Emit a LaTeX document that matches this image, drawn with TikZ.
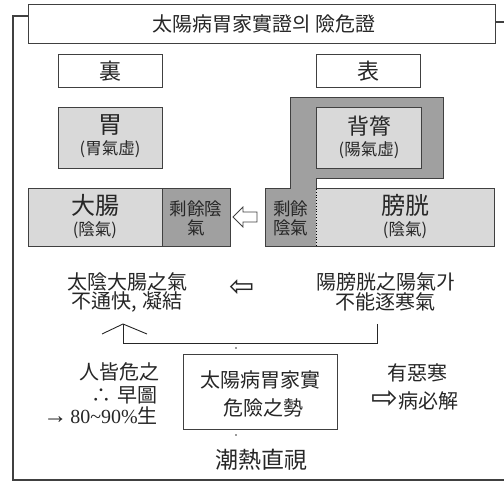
\documentclass[tikz,border=0pt]{standalone}
\usepackage{fontspec}
\setmainfont{Noto Sans CJK KR}
\newfontfamily\dvs{DejaVu Sans}
\newfontfamily\lat{Liberation Serif}
\newcommand\myfs[1]{\fontsize{#1pt}{#1pt}\selectfont}
\definecolor{lg}{HTML}{D9D9D9}
\definecolor{dg}{HTML}{A0A0A0}
\definecolor{ln}{HTML}{404040}
\begin{document}
\begin{tikzpicture}[x=1pt,y=-1pt,
  frame/.style={draw=ln, line width=1.2pt},
  bx/.style={draw=ln, line width=1pt, inner sep=0pt},
  conn/.style={draw=black!85, line width=0.9pt},
  txt/.style={inner sep=0pt, text=black!85},
  t20/.style={txt, font=\myfs{20}},
  big/.style={txt, font=\myfs{24}},
  small/.style={txt, font=\myfs{16.5}},
  mid/.style={txt, font=\myfs{17.5}},
]
\useasboundingbox (0,0) rectangle (504,481);
% title and frame
\node[bx, minimum width=467, minimum height=39] (title) at (261.5,24.5) {};
\node[t20] (tt) at (264,24) {太陽病胃家實證의 險危證};
\coordinate (fs1) at (28,16);
\coordinate (fc1) at (13,16);
\coordinate (fc2) at (13,480);
\coordinate (fc3) at (504,480);
\coordinate (rs1) at (495,22);
\coordinate (rs2) at (504,22);
\draw[frame] (fs1) -- (fc1) -- (fc2) -- (fc3);
\draw[frame] (rs1) -- (rs2);
% headers
\node[bx, minimum width=104, minimum height=33] (li) at (110,71.5) {};
\node[txt, font=\myfs{22}] at (li) {裏};
\node[bx, minimum width=104, minimum height=33] (biao) at (368,71.5) {};
\node[txt, font=\myfs{22}] at (biao) {表};
% stomach box
\node[bx, fill=lg, minimum width=104, minimum height=61] (wei) at (110,138.5) {};
\node[big] at (110,125) {胃};
\node[small] at (110,149.5) {(胃氣虛)};
% grey L-shape
\draw[ln, line width=1pt, fill=dg] (290,98) -- (443,98) -- (443,179) -- (316,179) -- (316,247) -- (265,247) -- (265,189) -- (290,189) -- cycle;
\node[bx, fill=lg, minimum width=105, minimum height=61] (bei) at (368.5,138.5) {};
\node[txt, font=\myfs{22}] at (369,126) {背膂};
\node[small] at (369,150.5) {(陽氣虛)};
\node[mid] at (290.5,208.5) {剩餘};
\node[mid] at (290.5,228) {陰氣};
% bladder box
\fill[lg] (316,189) rectangle (494,247);
\draw[ln, line width=1pt] (316,189) -- (494,189) -- (494,247) -- (316,247);
\draw[black, line width=0.8pt, dotted] (316,189) -- (316,247);
\node[big] (pg) at (405,205) {膀胱};
\node[small] at (405,230) {(陰氣)};
% large intestine
\node[bx, fill=lg, minimum width=134, minimum height=58] (dc) at (95,218) {};
\node[big] at (95,205) {大腸};
\node[small] at (95,230) {(陰氣)};
\node[bx, fill=dg, minimum width=68, minimum height=58] (sy) at (196,218) {};
\node[mid] at (196,208.5) {剩餘陰};
\node[mid] at (196,228) {氣};
% hollow arrow
\draw[ln, fill=white, line width=0.8pt] (233,217) -- (243,207) -- (243,212) -- (257,212) -- (257,222) -- (243,222) -- (243,227) -- cycle;
% text rows
\node[t20] (l1) at (127,282) {太陰大腸之氣};
\node[t20] (l2) at (127,302) {不通快, 凝結};
\node[txt, font=\dvs\myfs{30}] (la) at (242,288) {⇦};
\node[t20] (r1) at (386,282) {陽膀胱之陽氣가};
\node[t20] (r2) at (385,302) {不能逐寒氣};
% connector
\coordinate (ct) at (377,324);
\coordinate (cb) at (377,343);
\coordinate (cl) at (123,343);
\coordinate (apex) at (123,324);
\coordinate (aw1) at (102,334);
\coordinate (aw2) at (147,334);
\draw[conn] (ct) -- (cb) -- (cl) -- (apex);
\draw[conn] (aw1) -- (apex) -- (aw2);
\fill[black!80] (236,348) circle (0.8);
% centre box
\node[bx, minimum width=154, minimum height=74] (cbx) at (260,392) {};
\node[t20] at (260,380) {太陽病胃家實};
\node[t20] at (263,408) {危險之勢};
\fill[black!80] (236,435) circle (0.8);
\node[txt, font=\myfs{23}] (cr) at (261,460) {潮熱直視};
% left group
\node[t20] (g1) at (119,372) {人皆危之};
\node[t20, anchor=east] (g2) at (158,395) {∴\hspace{6pt}早圖};
\node[t20, anchor=base east] (g3) at (158,424) {{\lat\myfs{20}{\myfs{24}→}\hspace{3pt}80\char"007E 90\%}生};
% right group
\node[t20] (h1) at (417,373) {有惡寒};
\node[t20, anchor=base] (h2) at (415,409) {{\dvs\myfs{32}⇨}病必解};
\end{tikzpicture}
\end{document}
